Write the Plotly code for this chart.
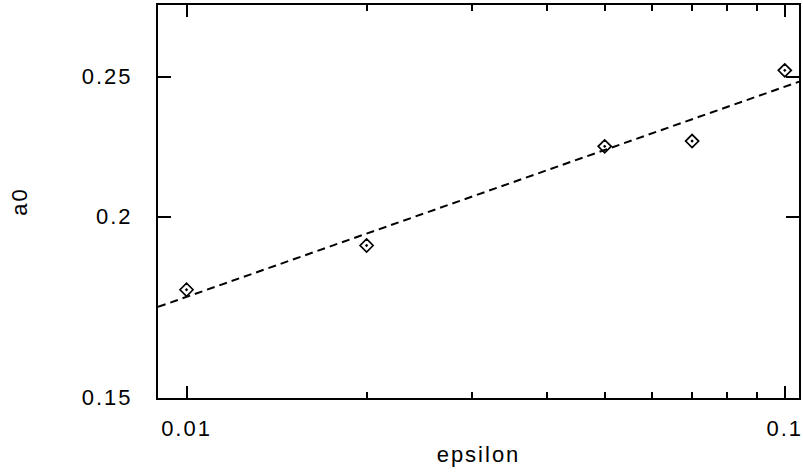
import plotly.graph_objects as go

# data
eps = [0.01, 0.02, 0.05, 0.07, 0.1]
a0 = [0.1780, 0.1910, 0.2237, 0.2256, 0.2525]

# fitted power-law line (endpoints at the plot edges)
fit_eps = [0.00896, 0.1057]
fit_a0 = [0.1732, 0.2480]

x_major = [0.01, 0.1]
x_major_text = ["0.01", "0.1"]
x_minor = [0.02, 0.03, 0.04, 0.05, 0.06, 0.07, 0.08, 0.09]
y_major = [0.15, 0.2, 0.25]
y_major_text = ["0.15", "0.2", "0.25"]


def spaced(s):
    return "<span style='letter-spacing:2px'>" + s + "</span>"


FONT = "Liberation Sans, Arial, sans-serif"
TFONT = dict(family=FONT, size=22, color="black")

fig = go.Figure()
fig.add_trace(go.Scatter(
    x=fit_eps, y=fit_a0, mode="lines",
    line=dict(color="black", width=2, dash="8px,5px"),
    showlegend=False, hoverinfo="skip"))
fig.add_trace(go.Scatter(
    x=eps, y=a0, mode="markers",
    marker=dict(symbol="diamond-open-dot", size=10, color="black",
                line=dict(color="black", width=1.7)),
    showlegend=False))

fig.update_layout(
    width=803, height=473,
    margin=dict(l=158, r=0, t=5, b=75),
    paper_bgcolor="white", plot_bgcolor="white",
    font=TFONT,
    xaxis=dict(
        type="log", range=[-2.0477, -0.9762],
        tickmode="array", tickvals=x_major,
        ticktext=[spaced(t) for t in x_major_text],
        tickfont=TFONT, ticklabeloverflow="allow",
        ticks="inside", ticklen=12, tickwidth=2, tickcolor="black",
        showline=True, linewidth=2, linecolor="black", mirror="ticks",
        showgrid=False, zeroline=False,
        ticklabelstandoff=10,
        minor=dict(tickmode="array", tickvals=x_minor, ticks="inside",
                   ticklen=6, tickwidth=1.5, tickcolor="black", showgrid=False),
        title=dict(text=spaced("epsilon"), font=TFONT, standoff=6),
    ),
    yaxis=dict(
        type="log", range=[-0.8245, -0.5525],
        tickmode="array", tickvals=y_major,
        ticktext=[spaced(t) for t in y_major_text],
        tickfont=TFONT, ticklabeloverflow="allow",
        ticks="inside", ticklen=13, tickwidth=2, tickcolor="black",
        showline=True, linewidth=2, linecolor="black", mirror="ticks",
        showgrid=False, zeroline=False,
        ticklabelstandoff=19,
        title=dict(text=spaced("a0"), font=TFONT, standoff=48),
    ),
)

fig.write_html("out.html")
